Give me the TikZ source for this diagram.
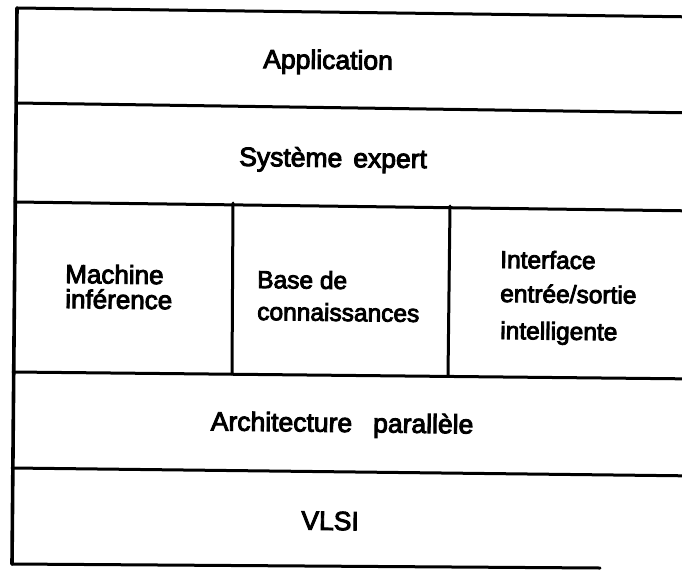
\documentclass[tikz,border=0pt]{standalone}
\usepackage{fontspec}
\setmainfont{Liberation Sans}
\newfontfamily\lblfont{Liberation Sans}[FakeBold=3.5]
\begin{document}
\begin{tikzpicture}[x=1pt,y=-1pt,
  rule/.style={line width=3pt,line cap=round},
  border/.style={line width=3.6pt,line cap=round},
  lbl/.style={inner sep=0pt,rotate=-0.7},
  big/.style={lbl,anchor=base,font=\lblfont\fontsize{26.5}{30}\selectfont},
  small/.style={lbl,anchor=base west,font=\lblfont\fontsize{24.5}{28}\selectfont},
  wide/.style={lbl,anchor=base west,font=\lblfont\fontsize{26}{30}\selectfont}]
\useasboundingbox (0,0) rectangle (682,570);
\clip (0,0) rectangle (682,570);

% corners of the layered frame (open on the right)
\coordinate (tl) at (17,8);
\coordinate (tr) at (700,17);
\coordinate (bl) at (12,564);
\coordinate (br) at (600,568);

% layer separators
\coordinate (a1) at (16,103);  \coordinate (a2) at (700,113);
\coordinate (b1) at (15,202);  \coordinate (b2) at (700,211);
\coordinate (c1) at (13,372);  \coordinate (c2) at (700,379);
\coordinate (d1) at (12,468);  \coordinate (d2) at (700,476);

% column separators of the middle layer
\coordinate (v1t) at (233,203); \coordinate (v1b) at (232,374);
\coordinate (v2t) at (450,206); \coordinate (v2b) at (448,376);

\draw[border] (tl) -- (bl);
\draw[rule] (tl) -- (tr);
\draw[rule] (a1) -- (a2);
\draw[rule] (b1) -- (b2);
\draw[rule] (c1) -- (c2);
\draw[rule] (d1) -- (d2);
\draw[rule] (bl) -- (br);
\draw[rule] (v1t) -- (v1b);
\draw[rule] (v2t) -- (v2b);

% layer labels
\node[big] (app)  at (328,69)  {Application};
\node[big] (se)   at (333,167) {Système\hspace{11pt}expert};
\node[wide] (mi1)  at (65,283)  {Machine};
\node[wide] (mi2)  at (65,308)  {inférence};
\node[small] (bc1)  at (257,288) {Base de};
\node[small] (bc2)  at (257,320) {connaissances};
\node[small] (io1)  at (500,268) {Interface};
\node[small] (io2)  at (500,302) {entrée/sortie};
\node[small] (io3)  at (500,339) {intelligente};
\node[big] (arch) at (342,432) {Architecture\hspace{21pt}parallèle};
\node[big] (vlsi) at (330,530) {VLSI};
\end{tikzpicture}
\end{document}
